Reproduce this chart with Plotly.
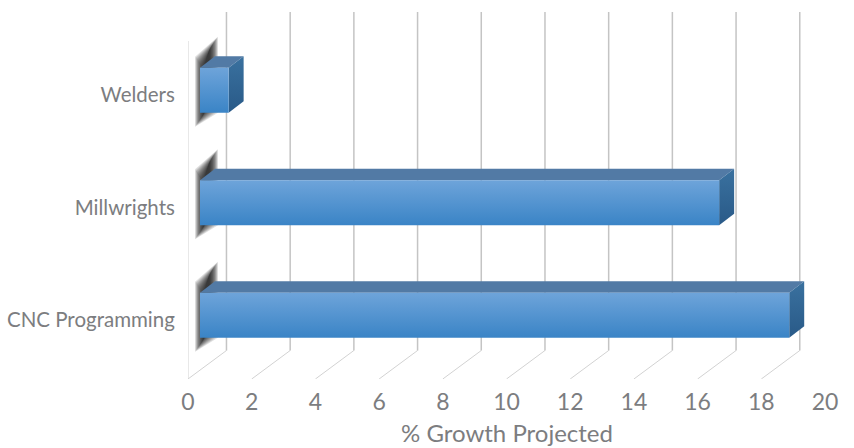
import plotly.graph_objects as go

categories = ["CNC Programming", "Millwrights", "Welders"]
growth = [18.5, 16.3, 0.9]
x_ticks = [0, 2, 4, 6, 8, 10, 12, 14, 16, 18, 20]

# pixel scale of the axes (style constants)
W, H = 854, 448
L, R, T, B = 187.5, 825, 12, 379
PX_X = (R - L) / 20
PX_Y = 112.5
Y_MIN = -(B - 320) / PX_Y
Y_MAX = (320 - T) / PX_Y


def dx(px):
    return px / PX_X


def dy(px):
    return px / PX_Y


DEPTH_X, DEPTH_Y = dx(38.5), dy(28.5)
fig = go.Figure()


def line(xs, ys, color, width):
    fig.add_trace(go.Scatter(x=xs, y=ys, mode="lines", cliponaxis=False, hoverinfo="skip",
                             line=dict(color=color, width=width), showlegend=False))


def poly(xs, ys, color=None, grad=None):
    kw = dict(fillgradient=dict(type="vertical", colorscale=grad)) if grad else dict(fillcolor=color)
    fig.add_trace(go.Scatter(x=xs + xs[:1], y=ys + ys[:1], mode="lines", fill="toself", cliponaxis=False,
                             line=dict(width=0), hoverinfo="skip", showlegend=False, **kw))


# walls and floor
line([0, 0], [Y_MIN, dy(320 - 41)], "#d2d2d2", 1)
for t in x_ticks:
    line([t, t + DEPTH_X], [Y_MIN, Y_MIN + DEPTH_Y], "#d2d2d2", 1)
    line([t + DEPTH_X, t + DEPTH_X], [Y_MIN + DEPTH_Y, Y_MAX], "#c4c4c4", 1.5)

BAR_H = dy(45)
OFF_X, OFF_Y = dx(12), dy(4.8)
BD_X, BD_Y = dx(15), dy(11.5)

for i, (c, v) in enumerate(zip(categories, growth)):
    x0 = OFF_X
    x1 = OFF_X + v
    yb = i + OFF_Y - BAR_H / 2
    yt = i + OFF_Y + BAR_H / 2
    # soft shadow on the wall: stacked translucent layers
    for grow in [7, 6, 5, 4, 3, 2, 1, 0, -1, -2, -3, -4, -5]:
        gx, gy = dx(grow * 0.7), dy(grow * 1.0)
        sx0, sx1 = x0 - gx, x0 + dx(13) + gx
        sb0, st0 = yb - dy(7) - gy, yt + dy(4) + gy
        sb1, st1 = yb + dy(7) - gy, yt + dy(24) + gy
        poly([sx0, sx1, sx1, sx0], [sb0, sb1, st1, st0], color="rgba(30,30,30,0.14)")
    # top, side, and front faces
    poly([x0, x1, x1 + BD_X, x0 + BD_X], [yt, yt, yt + BD_Y, yt + BD_Y], color="#527aa5")
    poly([x1, x1 + BD_X, x1 + BD_X, x1], [yb, yb + BD_Y, yt + BD_Y, yt],
         grad=[[0, "#295a88"], [1, "#3a719f"]])
    poly([x0, x1, x1, x0], [yb, yb, yt, yt], grad=[[0, "#3a84c6"], [1, "#6ea4da"]])

fig.update_layout(
    width=W, height=H, autosize=False,
    margin=dict(l=L, r=W - R, t=T, b=H - B),
    paper_bgcolor="white", plot_bgcolor="white", showlegend=False,
    font=dict(family="Lato", color="#7c7d80"),
    xaxis=dict(range=[0, 20], tickmode="array", tickvals=x_ticks, ticktext=[str(t) for t in x_ticks],
               showgrid=False, zeroline=False, showline=False, ticks="outside", ticklen=2,
               automargin=False,
               tickcolor="rgba(0,0,0,0)", tickfont=dict(size=23, color="#7c7d80")),
    yaxis=dict(range=[Y_MIN, Y_MAX], tickmode="array", tickvals=[0, 1, 2], ticktext=categories,
               showgrid=False, zeroline=False, showline=False, ticks="outside", ticklen=8,
               automargin=False,
               tickcolor="rgba(0,0,0,0)", tickfont=dict(size=20.5, color="#7c7d80")),
    annotations=[dict(text="% Growth Projected", xref="x", x=10, yref="paper", y=-53 / (B - T),
                      yanchor="middle", xanchor="center", showarrow=False,
                      font=dict(size=24, color="#7c7d80"))],
)
fig.write_html("out.html", config=dict(displayModeBar=False),
               post_script="document.body.style.margin='0';document.body.style.overflow='hidden';")
